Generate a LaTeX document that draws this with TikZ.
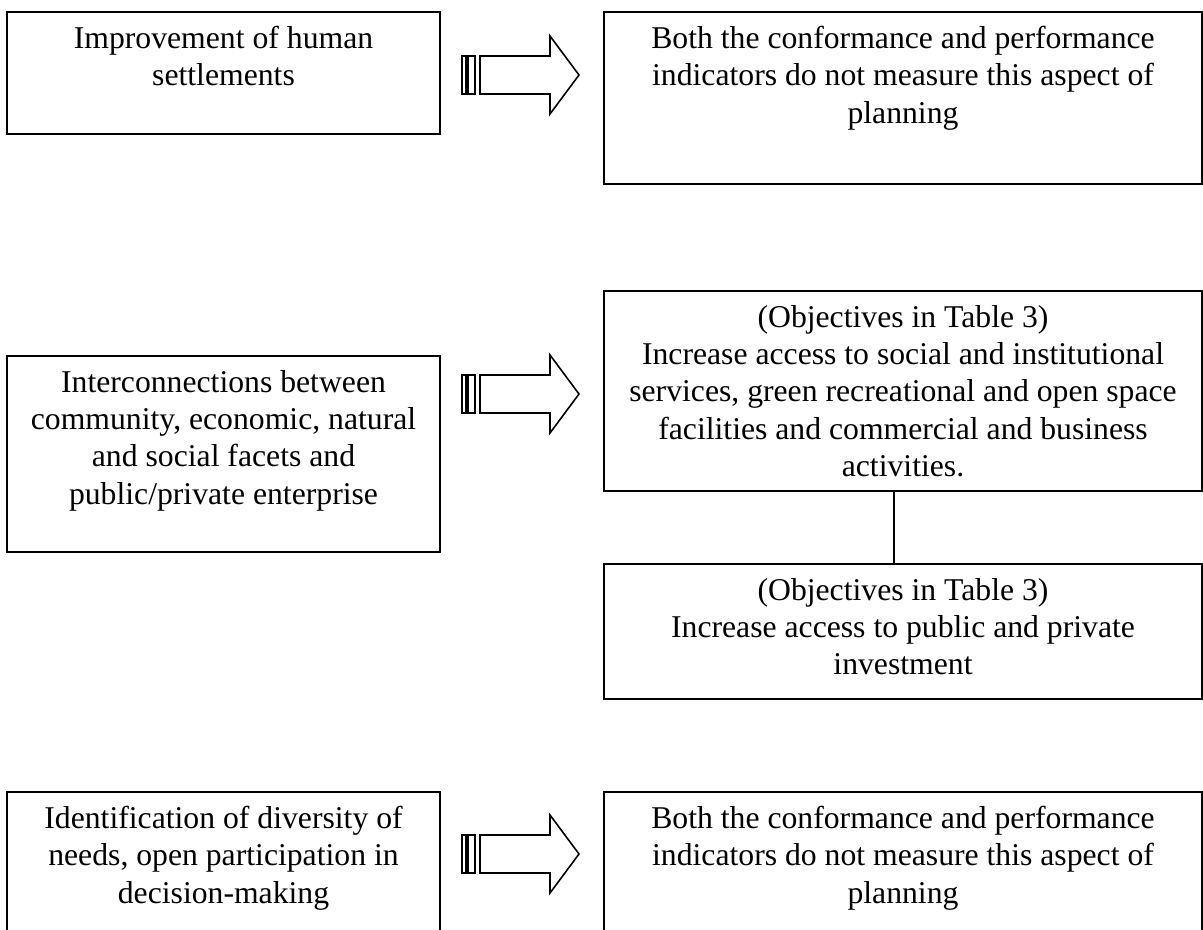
\documentclass[tikz,border=0pt]{standalone}
\usepackage{fontspec}
\setmainfont{Liberation Serif}
\usetikzlibrary{calc}
\begin{document}
\begin{tikzpicture}[x=0.5pt,y=-0.5pt,
  frame/.style={draw, line width=1pt, inner sep=0pt, anchor=north west},
  txt/.style={inner sep=0pt, anchor=north, align=center,
    font=\fontsize{15.85pt}{18.65pt}\selectfont, execute at begin node=\strut},
  barrow/.style={draw, line width=0.8pt, line join=miter},
  pics/striparrow/.style={code={
    \draw[barrow] (1,-19) rectangle (5,19);
    \draw[barrow] (7,-19) rectangle (14,19);
    \draw[barrow] (19,-19) -- (89,-19) -- (89,-39) -- (118,0) -- (89,39)
      -- (89,19) -- (19,19) -- cycle;
  }}]
\useasboundingbox (0,0) rectangle (1203,930);
\clip (0,0) rectangle (1203,930);

% row 1
\node[frame, minimum width=216.5pt, minimum height=61pt] (l1) at (6,11) {};
\node[frame, minimum width=299pt, minimum height=86pt] (r1) at (603,11) {};
\node[txt] (l1t) at ($(l1.north)+(0,14.9)$) {Improvement of human\\settlements};
\node[txt] (r1t) at ($(r1.north)+(0,14.9)$) {Both the conformance and performance\\indicators do not measure this aspect of\\planning};
\pic (a1) at (461,75) {striparrow};

% row 2
\node[frame, minimum width=216.5pt, minimum height=98pt] (l2) at (6,355) {};
\node[frame, minimum width=299pt, minimum height=100pt] (r2) at (603,290) {};
\node[frame, minimum width=299pt, minimum height=67.5pt] (r2b) at (603,563) {};
\node[txt] (l2t) at ($(l2.north)+(0,14.9)$) {Interconnections between\\community, economic, natural\\and social facets and\\public/private enterprise};
\node[txt] (r2t) at ($(r2.north)+(0,14.9)$) {(Objectives in Table 3)\\Increase access to social and institutional\\services, green recreational and open space\\facilities and commercial and business\\activities.};
\node[txt] (r2bt) at ($(r2b.north)+(0,14.9)$) {(Objectives in Table 3)\\Increase access to public and private\\investment};
\draw[line width=1pt] ($(r2.south)+(-9,0)$) -- ($(r2b.north)+(-9,0)$);
\pic (a2) at (461,394) {striparrow};

% row 3
\node[frame, minimum width=216.5pt, minimum height=80pt] (l3) at (6,791) {};
\node[frame, minimum width=299pt, minimum height=80pt] (r3) at (603,791) {};
\node[txt] (l3t) at ($(l3.north)+(0,14.9)$) {Identification of diversity of\\needs, open participation in\\decision-making};
\node[txt] (r3t) at ($(r3.north)+(0,14.9)$) {Both the conformance and performance\\indicators do not measure this aspect of\\planning};
\pic (a3) at (461,854) {striparrow};
\end{tikzpicture}
\end{document}
